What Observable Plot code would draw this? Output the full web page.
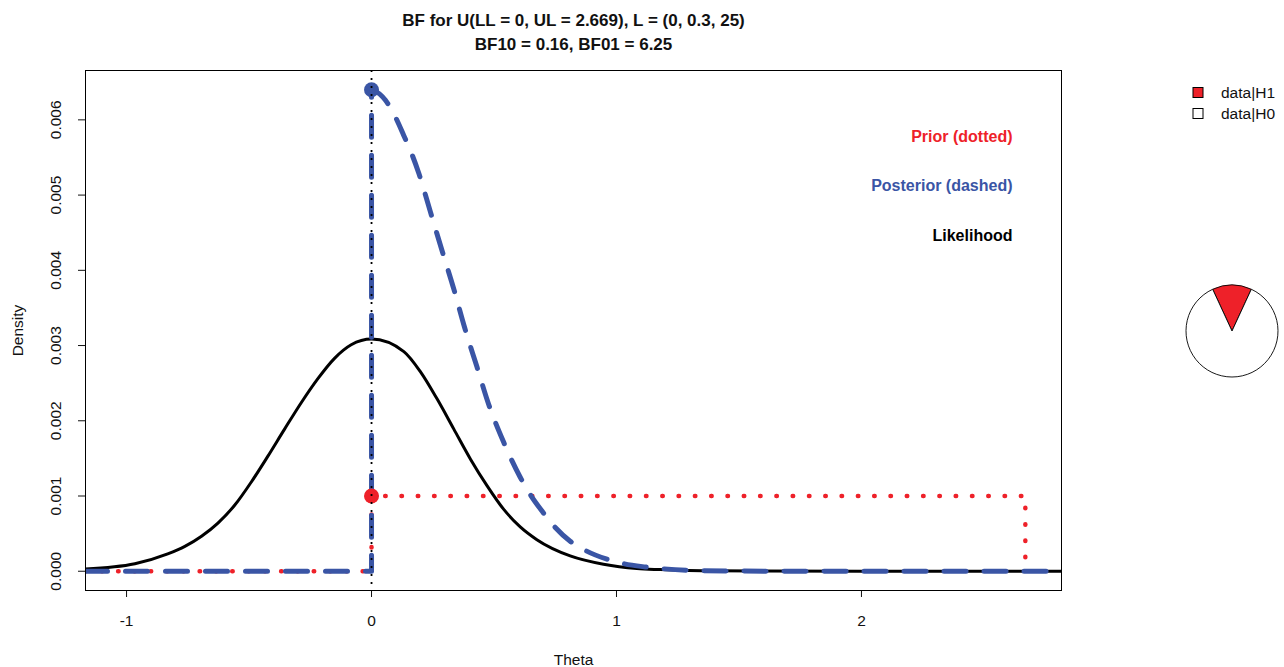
<!DOCTYPE html>
<html><head><meta charset="utf-8">
<script src="https://cdn.jsdelivr.net/npm/d3@7"></script>
<script src="https://cdn.jsdelivr.net/npm/@observablehq/plot@0.6"></script>
<style>
body{margin:0;background:#fff;}
</style>
</head><body><div id="chart"></div>
<script>
// ---- data ----
const titleLines = ["BF for U(LL = 0, UL = 2.669), L = (0, 0.3, 25)", "BF10 = 0.16, BF01 = 6.25"];
const xTicks = [-1, 0, 1, 2];
const yTicks = [0, 0.001, 0.002, 0.003, 0.004, 0.005, 0.006];
const xLabel = "Theta";
const yLabel = "Density";

const likeX = [-1.1676, -0.966, -0.832, -0.762, -0.694, -0.627, -0.558, -0.490, -0.423, -0.355, -0.287, -0.219, -0.151, -0.083, 0,
               0.132, 0.200, 0.268, 0.336, 0.404, 0.472, 0.539, 0.607, 0.675, 0.811, 0.947, 1.083, 1.178, 1.4, 2.0, 2.8166];
const likeY = [0.000030, 0.000100, 0.000230, 0.000330, 0.000465, 0.000640, 0.000880, 0.001190, 0.001530, 0.001889, 0.002240, 0.002560, 0.002830, 0.003010, 0.003086,
               0.002920, 0.002650, 0.002288, 0.001889, 0.001490, 0.001135, 0.000825, 0.000590, 0.000420, 0.000204, 0.000093, 0.000036, 0.000022, 0.000005, 0, 0];

// posterior: flat at 0 left of 0, vertical jump at 0, then the decaying curve
const postX = [-1.1676, 0, 0, 0.01, 0.057, 0.091, 0.132, 0.159, 0.193, 0.241, 0.288, 0.336, 0.380, 0.431, 0.478, 0.540, 0.607, 0.648, 0.696, 0.737, 0.811, 0.865, 0.961, 1.029, 1.117, 1.178, 1.287, 1.341, 1.5, 2.0, 2.8166];
const postY = [0, 0, 0.0064, 0.00639, 0.00626, 0.00608, 0.00579, 0.00559, 0.00529, 0.00477, 0.00426, 0.00375, 0.00324, 0.00271, 0.00222, 0.00171, 0.00125, 0.00102, 0.00080, 0.00063, 0.00040, 0.00029, 0.00016, 0.00010, 0.000057, 0.000036, 0.000013, 0.000009, 0.000002, 0, 0];

const priorX = [-1.1676, 0, 0, 2.669, 2.669];
const priorY = [0, 0, 0.001, 0.001, 0];

const pointX = [0, 0];
const pointY = [0.001, 0.0064];
const pointColor = ["#EE2129", "#3A55A5"];

const curveLabels = ["Prior (dotted)", "Posterior (dashed)", "Likelihood"];
const curveLabelColors = ["#EE2129", "#3A55A5", "#000000"];

const pieLabels = ["data|H1", "data|H0"];
const pieValues = [0.16, 1];
const pieColors = ["#EE2129", "#FFFFFF"];

// ---- build tables ----
const like = likeX.map((x, i) => ({x, y: likeY[i]}));
const post = postX.map((x, i) => ({x, y: postY[i]}));
const postStraight = post.slice(0, 3);
const postCurve = post.slice(2);
const prior = priorX.map((x, i) => ({x, y: priorY[i]}));
const pts = pointX.map((x, i) => ({x, y: pointY[i], c: pointColor[i]}));
const FONT = '"Liberation Sans", Arial, Helvetica, sans-serif';

function pieMark(index, scales, values, dim) {
  const g = d3.create("svg:g");
  const fx = dim.width - dim.marginRight;
  const cx = fx + 171, cy = dim.marginTop + 261, r = 46;
  const total = d3.sum(pieValues);
  const p = pieValues[0] / total;
  const arcs = d3.pie().sort(null).startAngle(-Math.PI * p).endAngle(2 * Math.PI - Math.PI * p)(pieValues);
  const arc = d3.arc().innerRadius(0).outerRadius(r);
  g.append("g").attr("transform", `translate(${cx},${cy})`)
    .selectAll("path").data(arcs).join("path")
    .attr("d", arc).attr("fill", (d, i) => pieColors[i])
    .attr("stroke", "black").attr("stroke-width", 0.9);
  const lg = g.append("g").attr("transform", `translate(${fx + 132},${dim.marginTop + 17.5})`);
  pieLabels.forEach((lab, i) => {
    lg.append("rect").attr("x", 0).attr("y", i * 21).attr("width", 10).attr("height", 10)
      .attr("fill", pieColors[i]).attr("stroke", "black").attr("stroke-width", 1);
    lg.append("text").attr("x", 28).attr("y", i * 21 + 5).attr("dy", "0.35em")
      .attr("text-anchor", "start")
      .attr("font-size", 15.5).attr("fill", "#111").text(lab);
  });
  return g.node();
}

const chart = Plot.plot({
  width: 1284,
  height: 667,
  marginLeft: 85,
  marginRight: 223,
  marginTop: 70,
  marginBottom: 77,
  style: {fontFamily: FONT, fontSize: "15.5px", background: "white", color: "#111"},
  x: {domain: [-1.1676, 2.8166]},
  y: {domain: [-0.000256, 0.006656]},
  marks: [
    Plot.axisX(xTicks, {tickSize: 7, tickPadding: 17, tickFormat: d => String(d), label: null, fontSize: 15.5}),
    Plot.axisY(yTicks, {tickSize: 7, tickPadding: 18, tickRotate: -90, tickFormat: d3.format(".3f"), label: null, fontSize: 15.5}),
    Plot.line(like, {x: "x", y: "y", stroke: "black", strokeWidth: 3, curve: "monotone-x", clip: true}),
    Plot.line(prior, {x: "x", y: "y", stroke: "#EE2129", strokeWidth: 4.5, strokeDasharray: "0.5,15.8", strokeLinecap: "round", clip: true}),
    Plot.line(postStraight, {x: "x", y: "y", stroke: "#3A55A5", strokeWidth: 5, strokeDasharray: "22,18", strokeLinecap: "round", strokeLinejoin: "round", clip: true}),
    Plot.line(postCurve, {x: "x", y: "y", stroke: "#3A55A5", strokeWidth: 5, strokeDasharray: "22,18", strokeLinecap: "round", strokeLinejoin: "round", curve: "monotone-x", clip: true}),
    Plot.dot(pts, {x: "x", y: "y", r: 7.5, fill: "c", stroke: null}),
    Plot.ruleX([0], {stroke: "black", strokeWidth: 1.8, strokeDasharray: "2,6"}),
    Plot.frame({stroke: "black", strokeWidth: 1}),
    Plot.text([xLabel], {text: d => d, frameAnchor: "bottom", dy: 70, lineAnchor: "middle", fontSize: 15.5}),
    Plot.text([yLabel], {text: d => d, frameAnchor: "left", dx: -67, rotate: -90, textAnchor: "middle", lineAnchor: "middle", fontSize: 15.5}),
    ...titleLines.map((t, i) => Plot.text([t], {text: d => d, frameAnchor: "top", dy: -50 + 24.5 * i, lineAnchor: "middle", fontSize: 17, fontWeight: "bold"})),
    ...curveLabels.map((t, i) => Plot.text([t], {text: d => d, frameAnchor: "top-right", dx: -49, dy: 66 + 49.5 * i, textAnchor: "end", lineAnchor: "middle", fill: curveLabelColors[i], fontSize: 16, fontWeight: "bold"})),
    pieMark
  ]
});
document.getElementById("chart").appendChild(chart);
</script>
</body></html>
